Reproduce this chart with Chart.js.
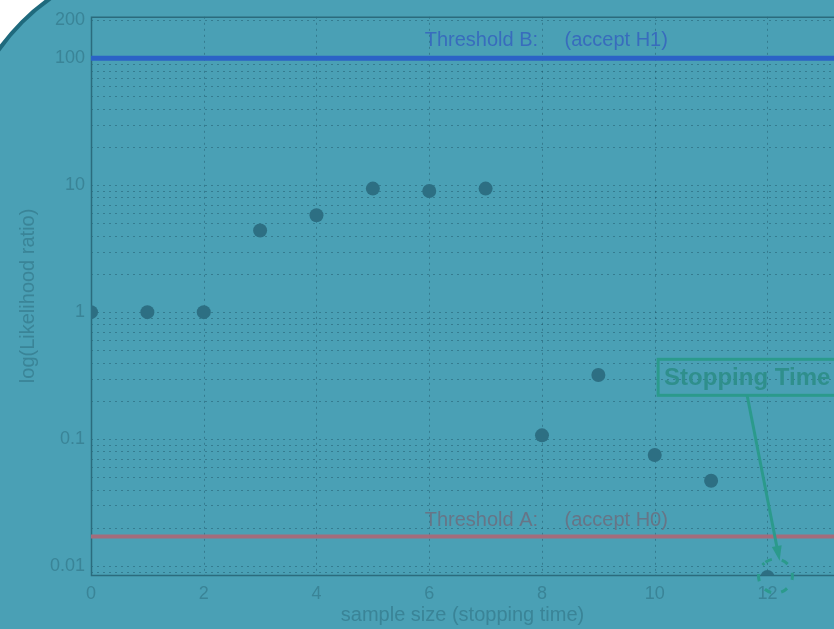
<!DOCTYPE html>
<html>
<head>
<meta charset="utf-8">
<script src="https://cdn.jsdelivr.net/npm/chart.js@4/dist/chart.umd.min.js"></script>
<style>
  html, body { margin: 0; padding: 0; background: #ffffff; overflow: hidden; }
  #wrap { width: 834px; height: 629px; position: relative; }
</style>
</head>
<body>
<div id="wrap"><canvas id="c" width="834" height="629"></canvas></div>
<script>
// Sequential probability ratio test: likelihood ratio after each sample
const sampleSizes      = [0, 1, 2, 3, 4, 5, 6, 7, 8, 9, 10, 11, 12];
const likelihoodRatios = [1, 1, 1, 4.4, 5.8, 9.4, 9.0, 9.4, 0.107, 0.32, 0.075, 0.047, 0.0082];

// Decision thresholds
const thresholdB = 100;     // accept H1 above this
const thresholdA = 0.0171;  // accept H0 below this

// Axis ticks and ranges
const xTickValues = [0, 2, 4, 6, 8, 10, 12];
const yTickValues = [200, 100, 10, 1, 0.1, 0.01];
const xRange = [0, 13.18];
const yRange = [0.0085, 212];

const stopIndex = sampleSizes.length - 1;

const TEAL_BG   = '#4aa0b5';
const FRAME     = '#2b6b7d';
const LABEL     = '#3a8497';
const GRID      = 'rgba(20, 65, 85, 0.38)';
const BLUE      = '#2b62c6';
const RED       = '#a36c7c';
const ANNOT     = '#2b9a8c';

const sansFont = '"Liberation Sans", Arial, sans-serif';

// Page background: teal panel with a large rounded top-left corner
const panelPlugin = {
  id: 'panel',
  beforeDraw(chart) {
    const ctx = chart.ctx;
    const W = chart.width, H = chart.height;
    ctx.save();
    ctx.fillStyle = '#ffffff';
    ctx.fillRect(0, 0, W, H);
    const x = -38, y = -38, w = W + 120, h = H + 120, r = 205;
    ctx.beginPath();
    ctx.moveTo(x + r, y);
    ctx.lineTo(x + w, y);
    ctx.lineTo(x + w, y + h);
    ctx.lineTo(x, y + h);
    ctx.lineTo(x, y + r);
    ctx.arcTo(x, y, x + r, y, r);
    ctx.closePath();
    ctx.fillStyle = TEAL_BG;
    ctx.fill();
    ctx.lineWidth = 4;
    ctx.strokeStyle = '#1f6a7d';
    ctx.stroke();
    ctx.restore();
  }
};

// Dotted grid (log minors on y, major ticks on x) and the plot frame
const gridPlugin = {
  id: 'dottedGrid',
  beforeDatasetsDraw(chart) {
    const {ctx, chartArea: a, scales: {x, y}} = chart;
    ctx.save();
    ctx.strokeStyle = GRID;
    ctx.lineWidth = 1;
    ctx.setLineDash([2, 4]);
    for (let e = -3; e <= 2; e++) {
      for (let m = 1; m <= 9; m++) {
        const v = m * Math.pow(10, e);
        if (v < yRange[0] || v > yRange[1]) continue;
        const py = Math.round(y.getPixelForValue(v)) + 0.5;
        ctx.beginPath();
        ctx.moveTo(a.left, py);
        ctx.lineTo(a.right, py);
        ctx.stroke();
      }
    }
    xTickValues.forEach(v => {
      if (v === 0) return;
      const px = Math.round(x.getPixelForValue(v)) + 0.5;
      ctx.beginPath();
      ctx.moveTo(px, a.top);
      ctx.lineTo(px, a.bottom);
      ctx.stroke();
    });
    ctx.setLineDash([]);
    ctx.strokeStyle = FRAME;
    ctx.lineWidth = 1.5;
    ctx.beginPath();
    ctx.moveTo(a.right + 2, a.top + 0.5);
    ctx.lineTo(a.left + 0.5, a.top + 0.5);
    ctx.lineTo(a.left + 0.5, a.bottom + 0.5);
    ctx.lineTo(a.right + 2, a.bottom + 0.5);
    ctx.stroke();
    ctx.restore();
  }
};

// Threshold captions and the "Stopping Time" call-out
const annotationPlugin = {
  id: 'notes',
  afterDatasetsDraw(chart) {
    const {ctx, scales: {x, y}} = chart;
    ctx.save();
    ctx.textBaseline = 'alphabetic';
    ctx.textAlign = 'left';
    ctx.font = '20px ' + sansFont;

    const capX = x.getPixelForValue(5.92);
    const capX2 = x.getPixelForValue(8.40);
    const yB = y.getPixelForValue(thresholdB);
    const yA = y.getPixelForValue(thresholdA);
    ctx.fillStyle = '#386cbd';
    ctx.fillText('Threshold B:', capX, yB - 12);
    ctx.fillText('(accept H1)', capX2, yB - 12);
    ctx.fillStyle = '#677587';
    ctx.fillText('Threshold A:', capX, yA - 10);
    ctx.fillText('(accept H0)', capX2, yA - 10);

    // call-out box
    const px = x.getPixelForValue(sampleSizes[stopIndex]);
    const py = y.getPixelForValue(likelihoodRatios[stopIndex]);
    const bx = x.getPixelForValue(10.06);
    const by = y.getPixelForValue(0.425);
    const bw = 190, bh = 36;
    ctx.strokeStyle = ANNOT;
    ctx.lineWidth = 3;
    ctx.strokeRect(bx, by, bw, bh);
    ctx.fillStyle = '#2f8f8c';
    ctx.font = 'bold 24px ' + sansFont;
    ctx.textBaseline = 'middle';
    ctx.fillText('Stopping Time', bx + 6, by + bh / 2 + 1);

    // arrow from the box to the stopping sample
    const sx = bx + 89, sy = by + bh;
    const tx = px + 11, ty = py - 22;
    ctx.beginPath();
    ctx.moveTo(sx, sy);
    ctx.lineTo(tx, ty);
    ctx.stroke();
    const ang = Math.atan2(ty - sy, tx - sx);
    ctx.fillStyle = ANNOT;
    ctx.beginPath();
    ctx.moveTo(tx + 6 * Math.cos(ang), ty + 6 * Math.sin(ang));
    ctx.lineTo(tx - 9 * Math.cos(ang) + 5 * Math.sin(ang), ty - 9 * Math.sin(ang) - 5 * Math.cos(ang));
    ctx.lineTo(tx - 9 * Math.cos(ang) - 5 * Math.sin(ang), ty - 9 * Math.sin(ang) + 5 * Math.cos(ang));
    ctx.closePath();
    ctx.fill();

    // dashed ring around the stopping sample
    ctx.setLineDash([7, 10]);
    ctx.lineWidth = 3;
    ctx.beginPath();
    ctx.arc(px + 8, py - 1, 17, -2.2, 4.0);
    ctx.stroke();
    ctx.restore();
  }
};

const tickFont = { family: sansFont, size: 18 };

new Chart(document.getElementById('c'), {
  type: 'scatter',
  data: {
    datasets: [
      {
        type: 'line',
        data: [{ x: xRange[0], y: thresholdB }, { x: xRange[1], y: thresholdB }],
        borderColor: BLUE,
        borderWidth: 5,
        pointRadius: 0,
        order: 3
      },
      {
        type: 'line',
        data: [{ x: xRange[0], y: thresholdA }, { x: xRange[1], y: thresholdA }],
        borderColor: RED,
        borderWidth: 4,
        pointRadius: 0,
        order: 2
      },
      {
        data: sampleSizes.map((s, i) => ({ x: s, y: likelihoodRatios[i] })),
        pointRadius: 7,
        pointBackgroundColor: '#2d6f83',
        pointBorderWidth: 0,
        borderWidth: 0,
        order: 1
      }
    ]
  },
  options: {
    responsive: false,
    animation: false,
    devicePixelRatio: 1,
    layout: { autoPadding: false, padding: { top: 15, right: 0, bottom: 0, left: 0 } },
    plugins: {
      legend: { display: false },
      tooltip: { enabled: false }
    },
    scales: {
      x: {
        type: 'linear',
        min: xRange[0],
        max: xRange[1],
        afterBuildTicks: s => { s.ticks = xTickValues.map(v => ({ value: v })); },
        afterFit: s => { s.height = 54; },
        grid: { display: false, drawTicks: false },
        border: { display: false },
        ticks: { color: LABEL, font: tickFont, padding: 8, maxRotation: 0 },
        title: {
          display: true,
          text: 'sample size (stopping time)',
          color: LABEL,
          font: { family: sansFont, size: 20 },
          padding: { top: 0, bottom: 2 }
        }
      },
      y: {
        type: 'logarithmic',
        min: yRange[0],
        max: yRange[1],
        afterBuildTicks: s => { s.ticks = yTickValues.map(v => ({ value: v })); },
        afterFit: s => { s.width = 91; },
        grid: { display: false, drawTicks: false },
        border: { display: false },
        ticks: {
          color: LABEL,
          font: tickFont,
          padding: 6,
          callback: v => String(v)
        },
        title: {
          display: true,
          text: 'log(Likelihood ratio)',
          color: LABEL,
          font: { family: sansFont, size: 20 },
          padding: { top: 16, bottom: 0 }
        }
      }
    }
  },
  plugins: [panelPlugin, gridPlugin, annotationPlugin]
});
</script>
</body>
</html>
